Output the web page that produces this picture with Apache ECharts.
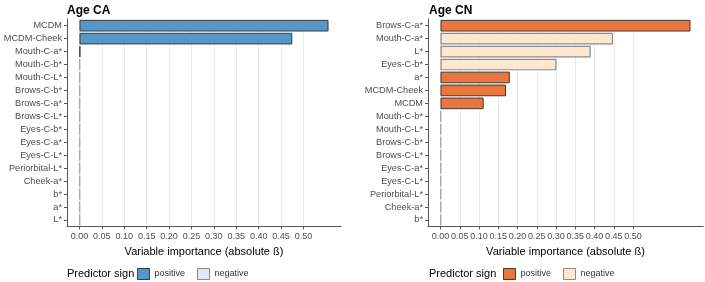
<!DOCTYPE html>
<html>
<head>
<meta charset="utf-8">
<script src="https://cdn.jsdelivr.net/npm/echarts@6/dist/echarts.min.js"></script>
<style>
  html, body { margin: 0; padding: 0; background: #fff; }
  #chart { width: 705px; height: 282px; }
</style>
</head>
<body>
<div id="chart"></div>
<script>
// Age CA panel
var caCats = ['MCDM', 'MCDM-Cheek', 'Mouth-C-a*', 'Mouth-C-b*', 'Mouth-C-L*', 'Brows-C-b*', 'Brows-C-a*', 'Brows-C-L*',
  'Eyes-C-b*', 'Eyes-C-a*', 'Eyes-C-L*', 'Periorbital-L*', 'Cheek-a*', 'b*', 'a*', 'L*'];
var caVals = [0.556, 0.475, 0.002, 0, 0, 0, 0, 0, 0, 0, 0, 0, 0, 0, 0, 0];
var caSign = ['pos', 'pos', 'pos', 'zero', 'zero', 'zero', 'zero', 'zero', 'zero', 'zero', 'zero', 'zero', 'zero', 'zero', 'zero', 'zero'];

// Age CN panel
var cnCats = ['Brows-C-a*', 'Mouth-C-a*', 'L*', 'Eyes-C-b*', 'a*', 'MCDM-Cheek', 'MCDM', 'Mouth-C-b*', 'Mouth-C-L*',
  'Brows-C-b*', 'Brows-C-L*', 'Eyes-C-a*', 'Eyes-C-L*', 'Periorbital-L*', 'Cheek-a*', 'b*'];
var cnVals = [0.649, 0.448, 0.390, 0.301, 0.180, 0.170, 0.112, 0, 0, 0, 0, 0, 0, 0, 0, 0];
var cnSign = ['pos', 'neg', 'neg', 'neg', 'pos', 'pos', 'pos', 'zero', 'zero', 'zero', 'zero', 'zero', 'zero', 'zero', 'zero', 'zero'];

var xTicks = [0, 0.05, 0.10, 0.15, 0.20, 0.25, 0.30, 0.35, 0.40, 0.45, 0.50];

var font = 'Liberation Sans, Arial, sans-serif';
var colCA = {pos: '#5697c9', neg: '#deebf7'};
var colCN = {pos: '#ea753d', neg: '#fde7d1'};

function pick(vals, sign, which) {
  return vals.map(function (v, i) {
    if (which === 'pos') return sign[i] === 'pos' ? v : null;
    return sign[i] !== 'pos' ? v : null;
  });
}

function barSeries(idx, vals, sign, cols) {
  return [
    {
      name: 'positive', type: 'bar', xAxisIndex: idx, yAxisIndex: idx, stack: 'p' + idx,
      barWidth: '90%', data: pick(vals, sign, 'pos'), silent: true, barMinHeight: 0.5,
      itemStyle: {color: cols.pos, borderColor: '#3b3b3b', borderWidth: 1}
    },
    {
      name: 'negative', type: 'bar', xAxisIndex: idx, yAxisIndex: idx, stack: 'p' + idx,
      barWidth: '90%', silent: true, barMinHeight: 0.5,
      data: pick(vals, sign, 'neg').map(function (v, i) {
        if (v === null) return null;
        // zero-width bars only show their grey outline
        if (sign[i] === 'zero') return {value: v, itemStyle: {color: '#a6a6a6', borderColor: '#a6a6a6', borderWidth: 1.4}};
        return v;
      }),
      itemStyle: {color: cols.neg, borderColor: '#8a8a8a', borderWidth: 1.2}
    }
  ];
}

function xAxis(idx, vals) {
  var mx = Math.max.apply(null, vals);
  return {
    type: 'value', gridIndex: idx, min: -0.05 * mx, max: 1.05 * mx,
    name: 'Variable importance (absolute ß)', nameLocation: 'middle', nameGap: 20,
    nameTextStyle: {fontFamily: font, fontSize: 11, color: '#000'},
    axisLine: {show: true, onZero: false, lineStyle: {color: '#555', width: 1}},
    axisTick: {show: true, length: 3, customValues: xTicks, lineStyle: {color: '#555'}},
    axisLabel: {customValues: xTicks, margin: 6, fontFamily: font, fontSize: 9, color: '#4d4d4d',
      formatter: function (v) { return v.toFixed(2); }},
    splitLine: {show: true, lineStyle: {color: '#e6e6e6', width: 0.8}}
  };
}

function yAxis(idx, cats) {
  return {
    type: 'category', gridIndex: idx, data: cats, inverse: true,
    axisLine: {show: true, onZero: false, lineStyle: {color: '#555', width: 1}},
    axisTick: {show: true, length: 3, alignWithLabel: true, lineStyle: {color: '#555'}},
    axisLabel: {margin: 5, fontFamily: font, fontSize: 9.2, color: '#4d4d4d'},
    splitLine: {show: false}
  };
}

function legend(left, cols) {
  return {
    left: left, top: 268, padding: 0, itemWidth: 12, itemHeight: 11, itemGap: 12, icon: 'rect',
    textStyle: {fontFamily: font, fontSize: 9, color: '#333'},
    selectedMode: false,
    data: [
      {name: 'positive', itemStyle: {color: cols.pos, borderColor: '#3b3b3b', borderWidth: 1}},
      {name: 'negative', itemStyle: {color: cols.neg, borderColor: '#8a8a8a', borderWidth: 1}}
    ]
  };
}

var titleStyle = {fontFamily: font, fontSize: 12, fontWeight: 'bold', color: '#000'};
var legTitleStyle = {fontFamily: font, fontSize: 11, fontWeight: 'normal', color: '#000'};

var option = {
  animation: false,
  title: [
    {text: 'Age CA', left: 62, top: 0, textStyle: titleStyle},
    {text: 'Age CN', left: 424, top: 0, textStyle: titleStyle},
    {text: 'Predictor sign', left: 62, top: 263, textStyle: legTitleStyle},
    {text: 'Predictor sign', left: 424, top: 263, textStyle: legTitleStyle}
  ],
  legend: [legend(137, colCA), legend(503, colCN)],
  grid: [
    {left: 67, top: 19.2, width: 274, height: 207.2},
    {left: 428, top: 19.2, width: 275, height: 207.2}
  ],
  xAxis: [xAxis(0, caVals), xAxis(1, cnVals)],
  yAxis: [yAxis(0, caCats), yAxis(1, cnCats)],
  series: barSeries(0, caVals, caSign, colCA).concat(barSeries(1, cnVals, cnSign, colCN))
};

var chart = echarts.init(document.getElementById('chart'));
chart.setOption(option);
</script>
</body>
</html>
